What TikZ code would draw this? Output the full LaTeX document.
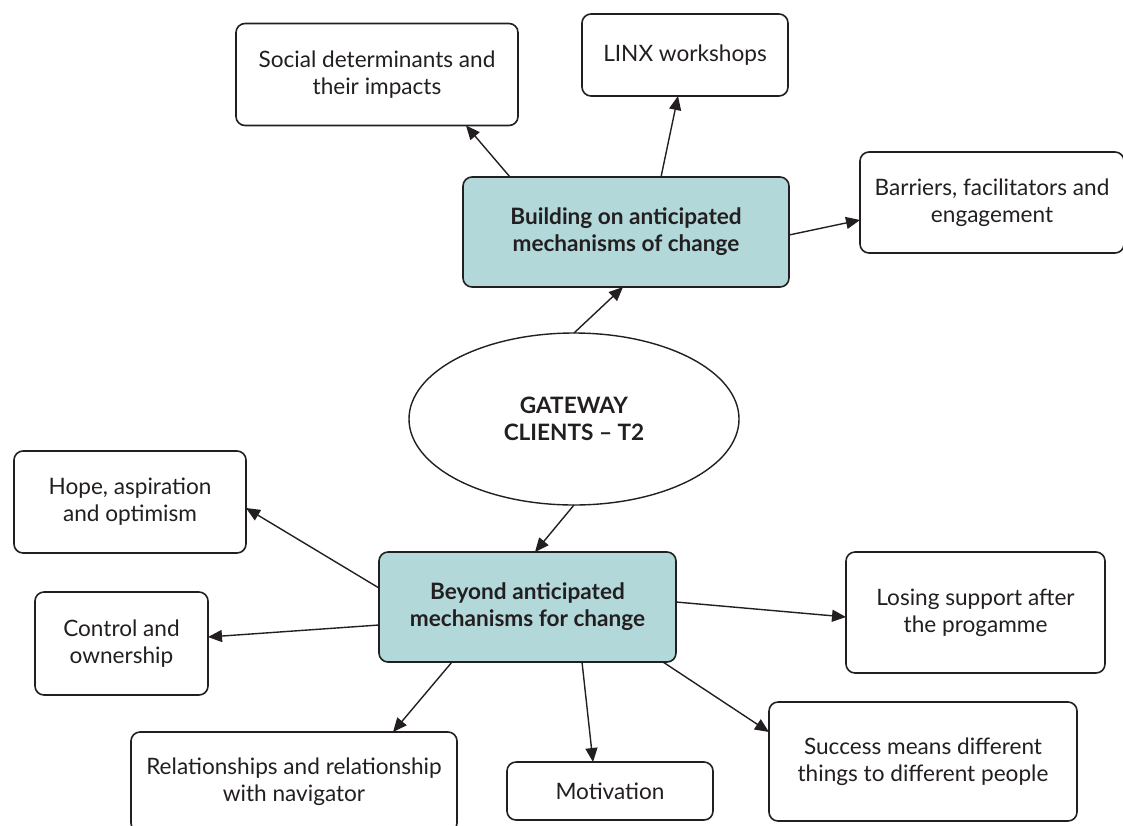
\documentclass[tikz,border=0pt]{standalone}
\usepackage{fontspec}
\setmainfont{Lato}
\usetikzlibrary{arrows.meta,shapes.geometric}
\definecolor{ink}{HTML}{231F20}
\definecolor{tealfill}{HTML}{B2D8DA}
\begin{document}
\begin{tikzpicture}[x=1pt,y=-1pt,
  box/.style={draw=ink, line width=1.6pt, rounded corners=9pt, fill=white,
    inner sep=0pt, outer sep=0pt, align=center, text=ink,
    font=\fontsize{22.6}{27}\selectfont},
  hub/.style={box, fill=tealfill, font=\fontsize{22.6}{27}\selectfont\bfseries},
  oval/.style={draw=ink, line width=1.4pt, ellipse, fill=white, inner sep=0pt,
    outer sep=0pt, align=center, text=ink, font=\fontsize{22.6}{27}\selectfont\bfseries},
  arr/.style={draw=ink, line width=1.4pt, -{Triangle[length=14pt,width=12pt]}}]
\useasboundingbox (0,0) rectangle (1123,825);

\node[box, minimum width=282pt, minimum height=102pt] (soc) at (377,74.5) {Social determinants and\\their impacts};
\node[box, minimum width=206pt, minimum height=82pt] (linx) at (685,55) {LINX workshops};
\node[box, minimum width=264pt, minimum height=101pt] (bar) at (992,202.5) {Barriers, facilitators and\\engagement};
\node[hub, minimum width=326pt, minimum height=110pt] (bld) at (626,232) {Building on anticipated\\mechanisms of change};
\node[oval, minimum width=330pt, minimum height=172pt] (ell) at (574,419) {GATEWAY\\CLIENTS – T2};
\node[box, minimum width=232pt, minimum height=102pt] (hope) at (130,502) {Hope, aspiration\\and optimism};
\node[hub, minimum width=297pt, minimum height=110pt] (bey) at (527.5,607) {Beyond anticipated\\mechanisms for change};
\node[box, minimum width=173pt, minimum height=103pt] (ctrl) at (121.5,643.5) {Control and\\ownership};
\node[box, minimum width=259pt, minimum height=121pt] (los) at (975.5,612.5) {Losing support after\\the progamme};
\node[box, minimum width=326pt, minimum height=100pt] (rel) at (294,782) {Relationships and relationship\\with navigator};
\node[box, minimum width=206pt, minimum height=58pt] (mot) at (610,791) {Motivation};
\node[box, minimum width=308pt, minimum height=119pt] (suc) at (923,761.5) {Success means different\\things to different people};

\draw[arr] ([xshift=47pt]bld.north west) -- ([xshift=230pt]soc.south west);
\draw[arr] ([xshift=198pt]bld.north west) -- ([xshift=96pt]linx.south west);
\draw[arr] ([yshift=-3pt]bld.east) -- ([yshift=-17.5pt]bar.west);
\draw[arr] (ell.north) -- ([xshift=-3pt]bld.south);
\draw[arr] (ell.south) -- ([xshift=7.5pt]bey.north);
\draw[arr] ([yshift=19pt]bey.west) -- ([yshift=-6pt]hope.east);
\draw[arr] ([yshift=-18pt]bey.west) -- ([yshift=6.5pt]ctrl.east);
\draw[arr] ([xshift=73pt]bey.south west) -- ([xshift=262pt]rel.north west);
\draw[arr] ([xshift=203pt]bey.south west) -- ([xshift=86pt]mot.north west);
\draw[arr] ([xshift=-13pt]bey.south east) -- ([yshift=-30pt]suc.north west);
\draw[arr] ([yshift=5pt]bey.east) -- ([yshift=-4.5pt]los.west);
\end{tikzpicture}
\end{document}
